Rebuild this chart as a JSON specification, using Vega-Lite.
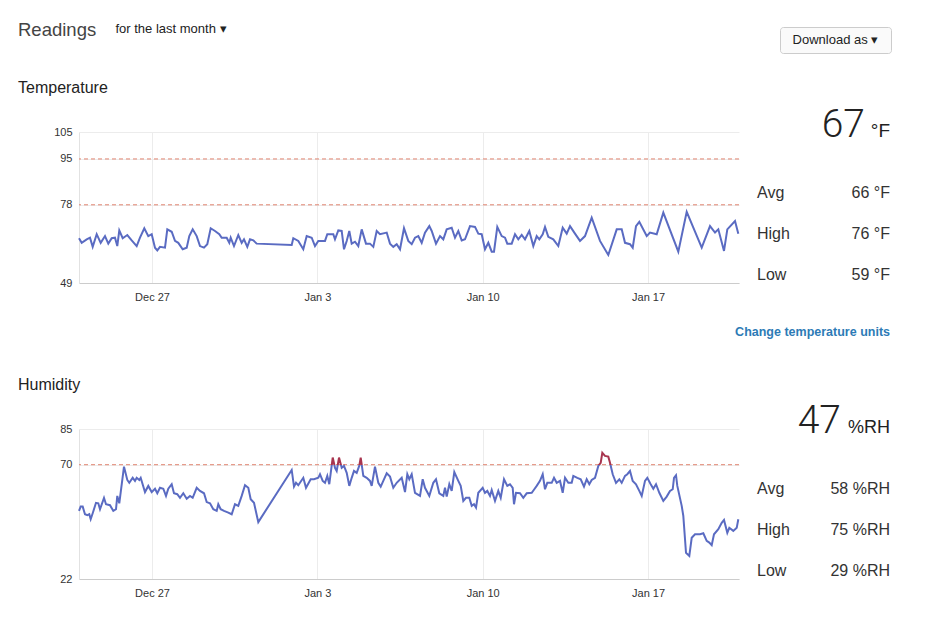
{
"$schema": "https://vega.github.io/schema/vega-lite/v6.json",
"background": "white",
"padding": {"left": 18, "top": 20, "right": 10, "bottom": 10},
"config": {
  "font": "Liberation Sans",
  "view": {"stroke": null},
  "title": {"fontWeight": "normal", "anchor": "start", "frame": "group"},
  "axis": {"labelFontSize": 11, "labelColor": "#333333", "ticks": false, "title": null, "gridColor": "#ececec", "domainColor": "#d6d6d6"}
},
"datasets": {
"temp": [
{"t":"2020-12-23T21:50Z","v":65.6},{"t":"2020-12-24T00:34Z","v":63.9},{"t":"2020-12-24T05:39Z","v":65.2},{"t":"2020-12-24T09:00Z","v":65.8},{"t":"2020-12-24T11:45Z","v":62.4},{"t":"2020-12-24T15:49Z","v":67.1},{"t":"2020-12-24T19:52Z","v":63.9},{"t":"2020-12-25T00:15Z","v":66.4},{"t":"2020-12-25T03:36Z","v":63.6},{"t":"2020-12-25T07:03Z","v":65.6},{"t":"2020-12-25T10:24Z","v":65.8},{"t":"2020-12-25T12:44Z","v":62.7},{"t":"2020-12-25T14:46Z","v":68.5},{"t":"2020-12-25T18:14Z","v":65.6},{"t":"2020-12-25T22:54Z","v":66.8},{"t":"2020-12-26T03:22Z","v":64.8},{"t":"2020-12-26T08:27Z","v":62.7},{"t":"2020-12-26T11:48Z","v":65.8},{"t":"2020-12-26T16:11Z","v":69.3},{"t":"2020-12-26T20:14Z","v":66.4},{"t":"2020-12-26T23:42Z","v":67.1},{"t":"2020-12-27T03:03Z","v":62.1},{"t":"2020-12-27T05:23Z","v":61.1},{"t":"2020-12-27T08:08Z","v":62.4},{"t":"2020-12-27T13:13Z","v":62.1},{"t":"2020-12-27T15:33Z","v":68.9},{"t":"2020-12-27T20:01Z","v":68.0},{"t":"2020-12-27T23:22Z","v":64.6},{"t":"2020-12-28T02:43Z","v":63.9},{"t":"2020-12-28T07:11Z","v":61.5},{"t":"2020-12-28T11:16Z","v":62.1},{"t":"2020-12-28T13:54Z","v":66.4},{"t":"2020-12-28T17:21Z","v":68.9},{"t":"2020-12-28T21:25Z","v":66.4},{"t":"2020-12-29T00:46Z","v":62.7},{"t":"2020-12-29T04:50Z","v":62.1},{"t":"2020-12-29T08:11Z","v":63.4},{"t":"2020-12-29T11:39Z","v":69.3},{"t":"2020-12-29T16:01Z","v":68.3},{"t":"2020-12-29T20:23Z","v":67.1},{"t":"2020-12-29T22:49Z","v":65.8},{"t":"2020-12-30T03:54Z","v":65.8},{"t":"2020-12-30T06:33Z","v":63.9},{"t":"2020-12-30T07:58Z","v":65.8},{"t":"2020-12-30T11:19Z","v":62.7},{"t":"2020-12-30T15:41Z","v":66.8},{"t":"2020-12-30T19:09Z","v":63.9},{"t":"2020-12-30T21:29Z","v":65.2},{"t":"2020-12-31T00:50Z","v":62.4},{"t":"2020-12-31T03:35Z","v":65.2},{"t":"2020-12-31T06:56Z","v":64.8},{"t":"2020-12-31T10:23Z","v":63.6},{"t":"2021-01-01T21:57Z","v":63.1},{"t":"2021-01-01T23:34Z","v":65.6},{"t":"2021-01-02T04:39Z","v":64.6},{"t":"2021-01-02T09:44Z","v":61.5},{"t":"2021-01-02T13:11Z","v":66.4},{"t":"2021-01-02T18:16Z","v":65.8},{"t":"2021-01-02T21:37Z","v":62.7},{"t":"2021-01-03T00:59Z","v":64.6},{"t":"2021-01-03T07:47Z","v":64.6},{"t":"2021-01-03T10:07Z","v":67.1},{"t":"2021-01-03T16:13Z","v":67.1},{"t":"2021-01-03T17:56Z","v":65.2},{"t":"2021-01-03T21:18Z","v":68.5},{"t":"2021-01-04T00:45Z","v":68.3},{"t":"2021-01-04T03:05Z","v":61.5},{"t":"2021-01-04T05:50Z","v":64.6},{"t":"2021-01-04T08:28Z","v":68.3},{"t":"2021-01-04T10:55Z","v":63.6},{"t":"2021-01-04T14:16Z","v":64.3},{"t":"2021-01-04T17:37Z","v":62.7},{"t":"2021-01-04T21:04Z","v":68.9},{"t":"2021-01-05T01:26Z","v":63.6},{"t":"2021-01-05T05:30Z","v":63.6},{"t":"2021-01-05T08:52Z","v":62.4},{"t":"2021-01-05T12:19Z","v":68.3},{"t":"2021-01-05T15:40Z","v":67.1},{"t":"2021-01-05T22:29Z","v":67.7},{"t":"2021-01-06T01:50Z","v":63.6},{"t":"2021-01-06T05:11Z","v":62.4},{"t":"2021-01-06T08:38Z","v":63.4},{"t":"2021-01-06T12:00Z","v":61.5},{"t":"2021-01-06T16:03Z","v":69.3},{"t":"2021-01-06T20:25Z","v":64.6},{"t":"2021-01-06T23:53Z","v":63.4},{"t":"2021-01-07T03:14Z","v":65.8},{"t":"2021-01-07T06:35Z","v":66.4},{"t":"2021-01-07T10:02Z","v":63.9},{"t":"2021-01-07T13:23Z","v":67.7},{"t":"2021-01-07T17:46Z","v":70.1},{"t":"2021-01-07T20:12Z","v":68.3},{"t":"2021-01-08T00:34Z","v":63.6},{"t":"2021-01-08T04:38Z","v":66.4},{"t":"2021-01-08T07:59Z","v":65.2},{"t":"2021-01-08T11:26Z","v":68.9},{"t":"2021-01-08T16:31Z","v":69.5},{"t":"2021-01-08T19:52Z","v":65.8},{"t":"2021-01-08T23:14Z","v":68.3},{"t":"2021-01-09T02:41Z","v":64.8},{"t":"2021-01-09T06:02Z","v":65.2},{"t":"2021-01-09T11:07Z","v":70.1},{"t":"2021-01-09T16:12Z","v":69.8},{"t":"2021-01-09T19:33Z","v":67.3},{"t":"2021-01-09T23:00Z","v":67.1},{"t":"2021-01-10T02:21Z","v":61.5},{"t":"2021-01-10T05:43Z","v":63.9},{"t":"2021-01-10T09:10Z","v":60.6},{"t":"2021-01-10T11:30Z","v":60.6},{"t":"2021-01-10T14:51Z","v":69.8},{"t":"2021-01-10T19:20Z","v":66.4},{"t":"2021-01-10T22:41Z","v":65.8},{"t":"2021-01-11T01:01Z","v":63.6},{"t":"2021-01-11T05:29Z","v":63.6},{"t":"2021-01-11T08:50Z","v":67.1},{"t":"2021-01-11T12:12Z","v":65.2},{"t":"2021-01-11T15:39Z","v":66.8},{"t":"2021-01-11T19:00Z","v":65.2},{"t":"2021-01-11T23:22Z","v":68.3},{"t":"2021-01-12T03:26Z","v":62.7},{"t":"2021-01-12T06:53Z","v":66.4},{"t":"2021-01-12T09:32Z","v":65.2},{"t":"2021-01-12T12:59Z","v":67.1},{"t":"2021-01-12T15:19Z","v":69.8},{"t":"2021-01-12T18:41Z","v":66.1},{"t":"2021-01-12T23:45Z","v":65.2},{"t":"2021-01-13T04:50Z","v":62.7},{"t":"2021-01-13T09:18Z","v":69.5},{"t":"2021-01-13T13:22Z","v":67.3},{"t":"2021-01-13T16:44Z","v":70.1},{"t":"2021-01-13T21:48Z","v":67.3},{"t":"2021-01-14T02:53Z","v":64.6},{"t":"2021-01-14T07:58Z","v":66.4},{"t":"2021-01-14T14:46Z","v":73.2},{"t":"2021-01-14T23:12Z","v":64.6},{"t":"2021-01-15T07:38Z","v":59.4},{"t":"2021-01-15T16:11Z","v":68.9},{"t":"2021-01-15T21:15Z","v":68.9},{"t":"2021-01-16T00:37Z","v":63.9},{"t":"2021-01-16T05:41Z","v":63.4},{"t":"2021-01-16T08:26Z","v":62.1},{"t":"2021-01-16T11:47Z","v":70.1},{"t":"2021-01-16T15:08Z","v":71.7},{"t":"2021-01-16T22:40Z","v":66.4},{"t":"2021-01-17T02:01Z","v":67.7},{"t":"2021-01-17T08:49Z","v":67.1},{"t":"2021-01-17T15:32Z","v":75.1},{"t":"2021-01-18T06:46Z","v":60.6},{"t":"2021-01-18T15:18Z","v":75.4},{"t":"2021-01-19T06:33Z","v":62.1},{"t":"2021-01-19T14:59Z","v":70.1},{"t":"2021-01-19T20:04Z","v":67.7},{"t":"2021-01-19T23:25Z","v":68.9},{"t":"2021-01-20T05:12Z","v":60.9},{"t":"2021-01-20T08:33Z","v":68.9},{"t":"2021-01-20T16:23Z","v":72.0},{"t":"2021-01-20T19:44Z","v":67.3}
],
"hum": [
{"t":"2020-12-23T21:50Z","v":50.6},{"t":"2020-12-23T23:33Z","v":52.4},{"t":"2020-12-24T01:35Z","v":52.4},{"t":"2020-12-24T03:55Z","v":49.2},{"t":"2020-12-24T06:16Z","v":48.8},{"t":"2020-12-24T08:17Z","v":49.2},{"t":"2020-12-24T09:43Z","v":47.1},{"t":"2020-12-24T11:45Z","v":49.6},{"t":"2020-12-24T15:06Z","v":54.0},{"t":"2020-12-24T17:26Z","v":53.8},{"t":"2020-12-24T19:10Z","v":51.3},{"t":"2020-12-24T23:14Z","v":56.1},{"t":"2020-12-25T01:16Z","v":53.4},{"t":"2020-12-25T05:19Z","v":53.0},{"t":"2020-12-25T08:41Z","v":50.6},{"t":"2020-12-25T11:25Z","v":51.3},{"t":"2020-12-25T12:44Z","v":56.9},{"t":"2020-12-25T14:46Z","v":53.8},{"t":"2020-12-25T19:33Z","v":69.2},{"t":"2020-12-25T22:54Z","v":63.6},{"t":"2020-12-26T00:56Z","v":62.4},{"t":"2020-12-26T04:23Z","v":64.5},{"t":"2020-12-26T06:44Z","v":63.2},{"t":"2020-12-26T08:27Z","v":64.5},{"t":"2020-12-26T11:06Z","v":63.6},{"t":"2020-12-26T12:31Z","v":64.5},{"t":"2020-12-26T16:53Z","v":58.5},{"t":"2020-12-26T20:14Z","v":61.1},{"t":"2020-12-26T23:42Z","v":58.5},{"t":"2020-12-27T03:03Z","v":59.9},{"t":"2020-12-27T05:23Z","v":58.0},{"t":"2020-12-27T08:08Z","v":60.3},{"t":"2020-12-27T11:29Z","v":59.9},{"t":"2020-12-27T14:14Z","v":56.9},{"t":"2020-12-27T16:34Z","v":59.9},{"t":"2020-12-27T20:01Z","v":61.8},{"t":"2020-12-27T22:21Z","v":58.0},{"t":"2020-12-28T01:42Z","v":57.6},{"t":"2020-12-28T04:27Z","v":56.1},{"t":"2020-12-28T07:48Z","v":58.0},{"t":"2020-12-28T11:16Z","v":55.7},{"t":"2020-12-28T14:37Z","v":56.9},{"t":"2020-12-28T17:21Z","v":56.1},{"t":"2020-12-28T21:25Z","v":60.3},{"t":"2020-12-29T00:46Z","v":59.0},{"t":"2020-12-29T04:50Z","v":58.0},{"t":"2020-12-29T07:35Z","v":54.3},{"t":"2020-12-29T10:56Z","v":53.8},{"t":"2020-12-29T14:17Z","v":51.3},{"t":"2020-12-29T17:44Z","v":50.6},{"t":"2020-12-29T19:22Z","v":53.4},{"t":"2020-12-29T21:48Z","v":51.3},{"t":"2020-12-30T01:10Z","v":50.6},{"t":"2020-12-30T05:32Z","v":49.9},{"t":"2020-12-30T08:59Z","v":49.2},{"t":"2020-12-30T12:20Z","v":53.4},{"t":"2020-12-30T15:41Z","v":52.7},{"t":"2020-12-30T19:09Z","v":56.9},{"t":"2020-12-30T22:30Z","v":61.4},{"t":"2020-12-31T01:51Z","v":60.3},{"t":"2020-12-31T04:17Z","v":55.5},{"t":"2020-12-31T07:38Z","v":54.0},{"t":"2020-12-31T12:01Z","v":45.9},{"t":"2021-01-01T21:57Z","v":67.8},{"t":"2021-01-02T00:17Z","v":60.8},{"t":"2021-01-02T02:19Z","v":62.4},{"t":"2021-01-02T04:39Z","v":61.4},{"t":"2021-01-02T09:44Z","v":64.5},{"t":"2021-01-02T12:29Z","v":60.3},{"t":"2021-01-02T17:15Z","v":63.9},{"t":"2021-01-02T20:37Z","v":63.9},{"t":"2021-01-03T00:59Z","v":64.5},{"t":"2021-01-03T02:42Z","v":66.0},{"t":"2021-01-03T05:27Z","v":63.2},{"t":"2021-01-03T07:47Z","v":62.4},{"t":"2021-01-03T10:07Z","v":65.3},{"t":"2021-01-03T12:09Z","v":61.8},{"t":"2021-01-03T15:37Z","v":73.0},{"t":"2021-01-03T17:56Z","v":68.7},{"t":"2021-01-03T19:40Z","v":67.4},{"t":"2021-01-03T22:01Z","v":73.0},{"t":"2021-01-04T00:45Z","v":68.7},{"t":"2021-01-04T03:05Z","v":69.5},{"t":"2021-01-04T05:50Z","v":66.6},{"t":"2021-01-04T08:28Z","v":61.1},{"t":"2021-01-04T10:55Z","v":64.5},{"t":"2021-01-04T13:15Z","v":67.4},{"t":"2021-01-04T15:59Z","v":66.6},{"t":"2021-01-04T18:38Z","v":69.6},{"t":"2021-01-04T20:04Z","v":73.0},{"t":"2021-01-04T22:42Z","v":65.3},{"t":"2021-01-05T02:09Z","v":64.5},{"t":"2021-01-05T05:30Z","v":63.2},{"t":"2021-01-05T07:14Z","v":61.1},{"t":"2021-01-05T10:35Z","v":69.2},{"t":"2021-01-05T13:56Z","v":62.4},{"t":"2021-01-05T16:23Z","v":60.8},{"t":"2021-01-05T19:01Z","v":63.2},{"t":"2021-01-05T22:29Z","v":66.4},{"t":"2021-01-06T01:50Z","v":65.0},{"t":"2021-01-06T05:11Z","v":60.3},{"t":"2021-01-06T08:38Z","v":62.4},{"t":"2021-01-06T13:43Z","v":64.5},{"t":"2021-01-06T17:04Z","v":58.5},{"t":"2021-01-06T19:25Z","v":66.0},{"t":"2021-01-06T21:26Z","v":63.9},{"t":"2021-01-06T23:53Z","v":66.0},{"t":"2021-01-07T03:14Z","v":58.2},{"t":"2021-01-07T08:19Z","v":56.9},{"t":"2021-01-07T11:03Z","v":63.9},{"t":"2021-01-07T13:23Z","v":60.3},{"t":"2021-01-07T17:46Z","v":56.9},{"t":"2021-01-07T21:50Z","v":62.4},{"t":"2021-01-08T00:34Z","v":63.9},{"t":"2021-01-08T03:55Z","v":58.0},{"t":"2021-01-08T07:59Z","v":56.9},{"t":"2021-01-08T09:43Z","v":60.3},{"t":"2021-01-08T11:26Z","v":56.6},{"t":"2021-01-08T14:05Z","v":61.8},{"t":"2021-01-08T16:31Z","v":59.0},{"t":"2021-01-08T19:10Z","v":66.9},{"t":"2021-01-08T23:14Z","v":63.2},{"t":"2021-01-09T01:40Z","v":61.1},{"t":"2021-01-09T04:19Z","v":54.8},{"t":"2021-01-09T07:03Z","v":56.1},{"t":"2021-01-09T10:24Z","v":56.1},{"t":"2021-01-09T12:51Z","v":52.7},{"t":"2021-01-09T15:11Z","v":53.4},{"t":"2021-01-09T17:13Z","v":52.0},{"t":"2021-01-09T19:33Z","v":58.2},{"t":"2021-01-10T00:01Z","v":60.3},{"t":"2021-01-10T02:21Z","v":58.2},{"t":"2021-01-10T04:42Z","v":59.0},{"t":"2021-01-10T07:26Z","v":56.9},{"t":"2021-01-10T09:10Z","v":59.4},{"t":"2021-01-10T12:31Z","v":54.8},{"t":"2021-01-10T15:52Z","v":59.0},{"t":"2021-01-10T18:19Z","v":56.1},{"t":"2021-01-10T21:40Z","v":63.9},{"t":"2021-01-11T01:01Z","v":61.1},{"t":"2021-01-11T03:46Z","v":61.8},{"t":"2021-01-11T06:30Z","v":60.3},{"t":"2021-01-11T07:49Z","v":53.4},{"t":"2021-01-11T09:51Z","v":58.2},{"t":"2021-01-11T13:55Z","v":58.0},{"t":"2021-01-11T17:16Z","v":56.1},{"t":"2021-01-11T20:44Z","v":58.0},{"t":"2021-01-12T01:49Z","v":58.2},{"t":"2021-01-12T04:27Z","v":59.7},{"t":"2021-01-12T06:53Z","v":61.1},{"t":"2021-01-12T10:14Z","v":63.2},{"t":"2021-01-12T12:59Z","v":66.0},{"t":"2021-01-12T15:19Z","v":59.7},{"t":"2021-01-12T17:40Z","v":62.4},{"t":"2021-01-12T22:08Z","v":62.4},{"t":"2021-01-13T00:28Z","v":64.5},{"t":"2021-01-13T03:13Z","v":62.4},{"t":"2021-01-13T06:34Z","v":63.2},{"t":"2021-01-13T09:18Z","v":58.2},{"t":"2021-01-13T11:39Z","v":64.5},{"t":"2021-01-13T15:00Z","v":62.4},{"t":"2021-01-13T18:27Z","v":62.4},{"t":"2021-01-13T20:05Z","v":65.3},{"t":"2021-01-14T00:08Z","v":64.5},{"t":"2021-01-14T03:36Z","v":63.9},{"t":"2021-01-14T06:57Z","v":60.8},{"t":"2021-01-14T09:41Z","v":63.9},{"t":"2021-01-14T12:20Z","v":61.8},{"t":"2021-01-14T14:46Z","v":63.6},{"t":"2021-01-14T18:08Z","v":64.5},{"t":"2021-01-14T21:29Z","v":69.5},{"t":"2021-01-14T23:55Z","v":70.8},{"t":"2021-01-15T01:33Z","v":75.0},{"t":"2021-01-15T04:17Z","v":73.7},{"t":"2021-01-15T07:38Z","v":73.4},{"t":"2021-01-15T09:22Z","v":70.8},{"t":"2021-01-15T12:07Z","v":66.0},{"t":"2021-01-15T15:28Z","v":62.4},{"t":"2021-01-15T18:49Z","v":63.9},{"t":"2021-01-15T21:15Z","v":62.4},{"t":"2021-01-16T00:37Z","v":65.3},{"t":"2021-01-16T02:57Z","v":66.0},{"t":"2021-01-16T05:41Z","v":67.4},{"t":"2021-01-16T08:26Z","v":63.2},{"t":"2021-01-16T11:47Z","v":61.8},{"t":"2021-01-16T15:08Z","v":59.0},{"t":"2021-01-16T17:35Z","v":56.9},{"t":"2021-01-16T20:56Z","v":63.2},{"t":"2021-01-16T23:16Z","v":64.5},{"t":"2021-01-17T02:43Z","v":61.8},{"t":"2021-01-17T05:22Z","v":59.9},{"t":"2021-01-17T08:07Z","v":61.8},{"t":"2021-01-17T11:28Z","v":58.2},{"t":"2021-01-17T15:32Z","v":54.8},{"t":"2021-01-17T18:59Z","v":56.6},{"t":"2021-01-17T22:20Z","v":59.0},{"t":"2021-01-18T01:05Z","v":59.7},{"t":"2021-01-18T02:24Z","v":64.5},{"t":"2021-01-18T04:26Z","v":65.6},{"t":"2021-01-18T05:45Z","v":61.1},{"t":"2021-01-18T10:13Z","v":52.7},{"t":"2021-01-18T11:51Z","v":48.5},{"t":"2021-01-18T14:35Z","v":33.0},{"t":"2021-01-18T17:56Z","v":31.7},{"t":"2021-01-18T20:23Z","v":39.3},{"t":"2021-01-18T23:44Z","v":40.8},{"t":"2021-01-19T04:49Z","v":40.8},{"t":"2021-01-19T08:10Z","v":41.2},{"t":"2021-01-19T11:37Z","v":38.0},{"t":"2021-01-19T14:16Z","v":37.3},{"t":"2021-01-19T16:42Z","v":36.2},{"t":"2021-01-19T19:02Z","v":40.8},{"t":"2021-01-19T23:25Z","v":42.9},{"t":"2021-01-20T02:52Z","v":45.6},{"t":"2021-01-20T05:12Z","v":46.8},{"t":"2021-01-20T08:33Z","v":41.4},{"t":"2021-01-20T10:35Z","v":43.5},{"t":"2021-01-20T14:39Z","v":42.2},{"t":"2021-01-20T18:07Z","v":43.5},{"t":"2021-01-20T19:44Z","v":47.1}
]
},
"spacing": 26,
"vconcat": [
{
  "bounds": "flush",
  "spacing": 517,
  "hconcat": [
    {
      "width": 184, "height": 4,
      "title": {"text": "Readings", "fontSize": 18.5, "color": "#444444", "offset": -16, "dx": -61},
      "data": {"values": [{"label": "for the last month ▾"}]},
      "mark": {"type": "text", "fontSize": 13, "color": "#222222"},
      "encoding": {"text": {"field": "label"}}
    },
    {
      "width": 111, "height": 26,
      "view": {"stroke": "#cccccc", "fill": "#fafafa", "cornerRadius": 3},
      "data": {"values": [{"label": "Download as ▾"}]},
      "mark": {"type": "text", "fontSize": 13, "color": "#222222"},
      "encoding": {"text": {"field": "label"}}
    }
  ]
},
{
  "bounds": "flush",
  "spacing": 18,
  "hconcat": [
    {
      "width": 660, "height": 151,
      "title": {"text": "Temperature", "fontSize": 16, "color": "#222222", "dx": -61, "offset": 30},
      "layer": [
        {
          "data": {"values": [{"limit": 95}, {"limit": 78}]},
          "mark": {"type": "rule", "color": "#e0836f", "strokeDash": [4, 3], "strokeWidth": 1},
          "encoding": {"y": {"field": "limit", "type": "quantitative", "scale": {"domain": [49, 105], "nice": false, "zero": false}, "axis": {"values": [49, 78, 95, 105], "grid": true, "labelPadding": 7, "domainColor": "#e2e2e2"}}}
        },
        {
          "data": {"name": "temp"},
          "mark": {"type": "line", "stroke": "#5a6bc2", "strokeWidth": 2},
          "encoding": {
            "x": {"field": "t", "type": "temporal", "scale": {"type": "utc", "nice": false, "domain": [{"year": 2020, "month": 12, "date": 23, "hours": 21, "minutes": 50, "utc": true}, {"year": 2021, "month": 1, "date": 20, "hours": 20, "minutes": 26, "utc": true}]},
              "axis": {"values": [{"year": 2020, "month": 12, "date": 27, "utc": true}, {"year": 2021, "month": 1, "date": 3, "utc": true}, {"year": 2021, "month": 1, "date": 10, "utc": true}, {"year": 2021, "month": 1, "date": 17, "utc": true}], "format": "%b %-d", "grid": true, "labelPadding": 8, "domainColor": "#cccccc"}},
            "y": {"field": "v", "type": "quantitative"}
          }
        }
      ]
    },
    {
      "bounds": "flush",
      "spacing": 51,
      "vconcat": [
        {
          "width": 133, "height": 10,
          "data": {"values": [{"current": "67", "unit": "°F"}]},
          "layer": [
            {"mark": {"type": "text", "align": "right", "baseline": "alphabetic", "fontSize": 39, "font": "Roboto", "fontWeight": 300, "color": "#222222", "dx": -25},
             "encoding": {"x": {"datum": "value", "type": "nominal", "scale": {"type": "point", "domain": ["label", "value"], "padding": 0}, "axis": null}, "text": {"field": "current"}}},
            {"mark": {"type": "text", "align": "right", "baseline": "alphabetic", "fontSize": 19, "color": "#222222"},
             "encoding": {"x": {"datum": "value", "type": "nominal", "scale": {"type": "point", "domain": ["label", "value"], "padding": 0}, "axis": null}, "text": {"field": "unit"}}}
          ]
        },
        {
          "width": 133, "height": 82,
          "data": {"values": [{"stat": "Avg", "reading": "66 °F"}, {"stat": "High", "reading": "76 °F"}, {"stat": "Low", "reading": "59 °F"}]},
          "encoding": {"y": {"field": "stat", "type": "nominal", "sort": null, "scale": {"type": "point", "padding": 0}, "axis": null}},
          "layer": [
            {"mark": {"type": "text", "align": "left", "fontSize": 16, "color": "#333333"},
             "encoding": {"x": {"datum": "label", "type": "nominal", "scale": {"type": "point", "domain": ["label", "value"], "padding": 0}, "axis": null}, "text": {"field": "stat"}}},
            {"mark": {"type": "text", "align": "right", "fontSize": 16, "color": "#333333"},
             "encoding": {"x": {"datum": "value", "type": "nominal", "scale": {"type": "point", "domain": ["label", "value"], "padding": 0}, "axis": null}, "text": {"field": "reading"}}}
          ]
        },
        {
          "width": 133, "height": 25,
          "data": {"values": [{"link": "Change temperature units"}]},
          "mark": {"type": "text", "align": "right", "baseline": "bottom", "fontSize": 12.5, "fontWeight": "bold", "color": "#2d7bb6"},
          "encoding": {"x": {"datum": "value", "type": "nominal", "scale": {"type": "point", "domain": ["label", "value"], "padding": 0}, "axis": null}, "text": {"field": "link"}}
        }
      ]
    }
  ]
},
{
  "bounds": "flush",
  "spacing": 18,
  "hconcat": [
    {
      "width": 660, "height": 150,
      "title": {"text": "Humidity", "fontSize": 16, "color": "#222222", "dx": -61, "offset": 30},
      "layer": [
        {
          "data": {"values": [{"limit": 70}]},
          "mark": {"type": "rule", "color": "#e0836f", "strokeDash": [4, 3], "strokeWidth": 1},
          "encoding": {"y": {"field": "limit", "type": "quantitative", "scale": {"domain": [22, 85], "nice": false, "zero": false}, "axis": {"values": [22, 70, 85], "grid": true, "labelPadding": 7, "domainColor": "#e2e2e2"}}}
        },
        {
          "data": {"name": "hum"},
          "mark": {"type": "line", "strokeWidth": 2, "stroke": {"gradient": "linear", "x1": 0, "y1": 0, "x2": 0, "y2": 1, "stops": [{"offset": 0, "color": "#a8354f"}, {"offset": 0.1155, "color": "#a8354f"}, {"offset": 0.1156, "color": "#5a6bc2"}, {"offset": 1, "color": "#5a6bc2"}]}},
          "encoding": {
            "x": {"field": "t", "type": "temporal", "scale": {"type": "utc", "nice": false, "domain": [{"year": 2020, "month": 12, "date": 23, "hours": 21, "minutes": 50, "utc": true}, {"year": 2021, "month": 1, "date": 20, "hours": 20, "minutes": 26, "utc": true}]},
              "axis": {"values": [{"year": 2020, "month": 12, "date": 27, "utc": true}, {"year": 2021, "month": 1, "date": 3, "utc": true}, {"year": 2021, "month": 1, "date": 10, "utc": true}, {"year": 2021, "month": 1, "date": 17, "utc": true}], "format": "%b %-d", "grid": true, "labelPadding": 8, "domainColor": "#cccccc"}},
            "y": {"field": "v", "type": "quantitative"}
          }
        }
      ]
    },
    {
      "bounds": "flush",
      "spacing": 52,
      "vconcat": [
        {
          "width": 133, "height": 8,
          "data": {"values": [{"current": "47", "unit": "%RH"}]},
          "layer": [
            {"mark": {"type": "text", "align": "right", "baseline": "alphabetic", "fontSize": 39, "font": "Roboto", "fontWeight": 300, "color": "#222222", "dx": -49},
             "encoding": {"x": {"datum": "value", "type": "nominal", "scale": {"type": "point", "domain": ["label", "value"], "padding": 0}, "axis": null}, "text": {"field": "current"}}},
            {"mark": {"type": "text", "align": "right", "baseline": "alphabetic", "fontSize": 18, "color": "#222222"},
             "encoding": {"x": {"datum": "value", "type": "nominal", "scale": {"type": "point", "domain": ["label", "value"], "padding": 0}, "axis": null}, "text": {"field": "unit"}}}
          ]
        },
        {
          "width": 133, "height": 82,
          "data": {"values": [{"stat": "Avg", "reading": "58 %RH"}, {"stat": "High", "reading": "75 %RH"}, {"stat": "Low", "reading": "29 %RH"}]},
          "encoding": {"y": {"field": "stat", "type": "nominal", "sort": null, "scale": {"type": "point", "padding": 0}, "axis": null}},
          "layer": [
            {"mark": {"type": "text", "align": "left", "fontSize": 16, "color": "#333333"},
             "encoding": {"x": {"datum": "label", "type": "nominal", "scale": {"type": "point", "domain": ["label", "value"], "padding": 0}, "axis": null}, "text": {"field": "stat"}}},
            {"mark": {"type": "text", "align": "right", "fontSize": 16, "color": "#333333"},
             "encoding": {"x": {"datum": "value", "type": "nominal", "scale": {"type": "point", "domain": ["label", "value"], "padding": 0}, "axis": null}, "text": {"field": "reading"}}}
          ]
        }
      ]
    }
  ]
}
]
}
